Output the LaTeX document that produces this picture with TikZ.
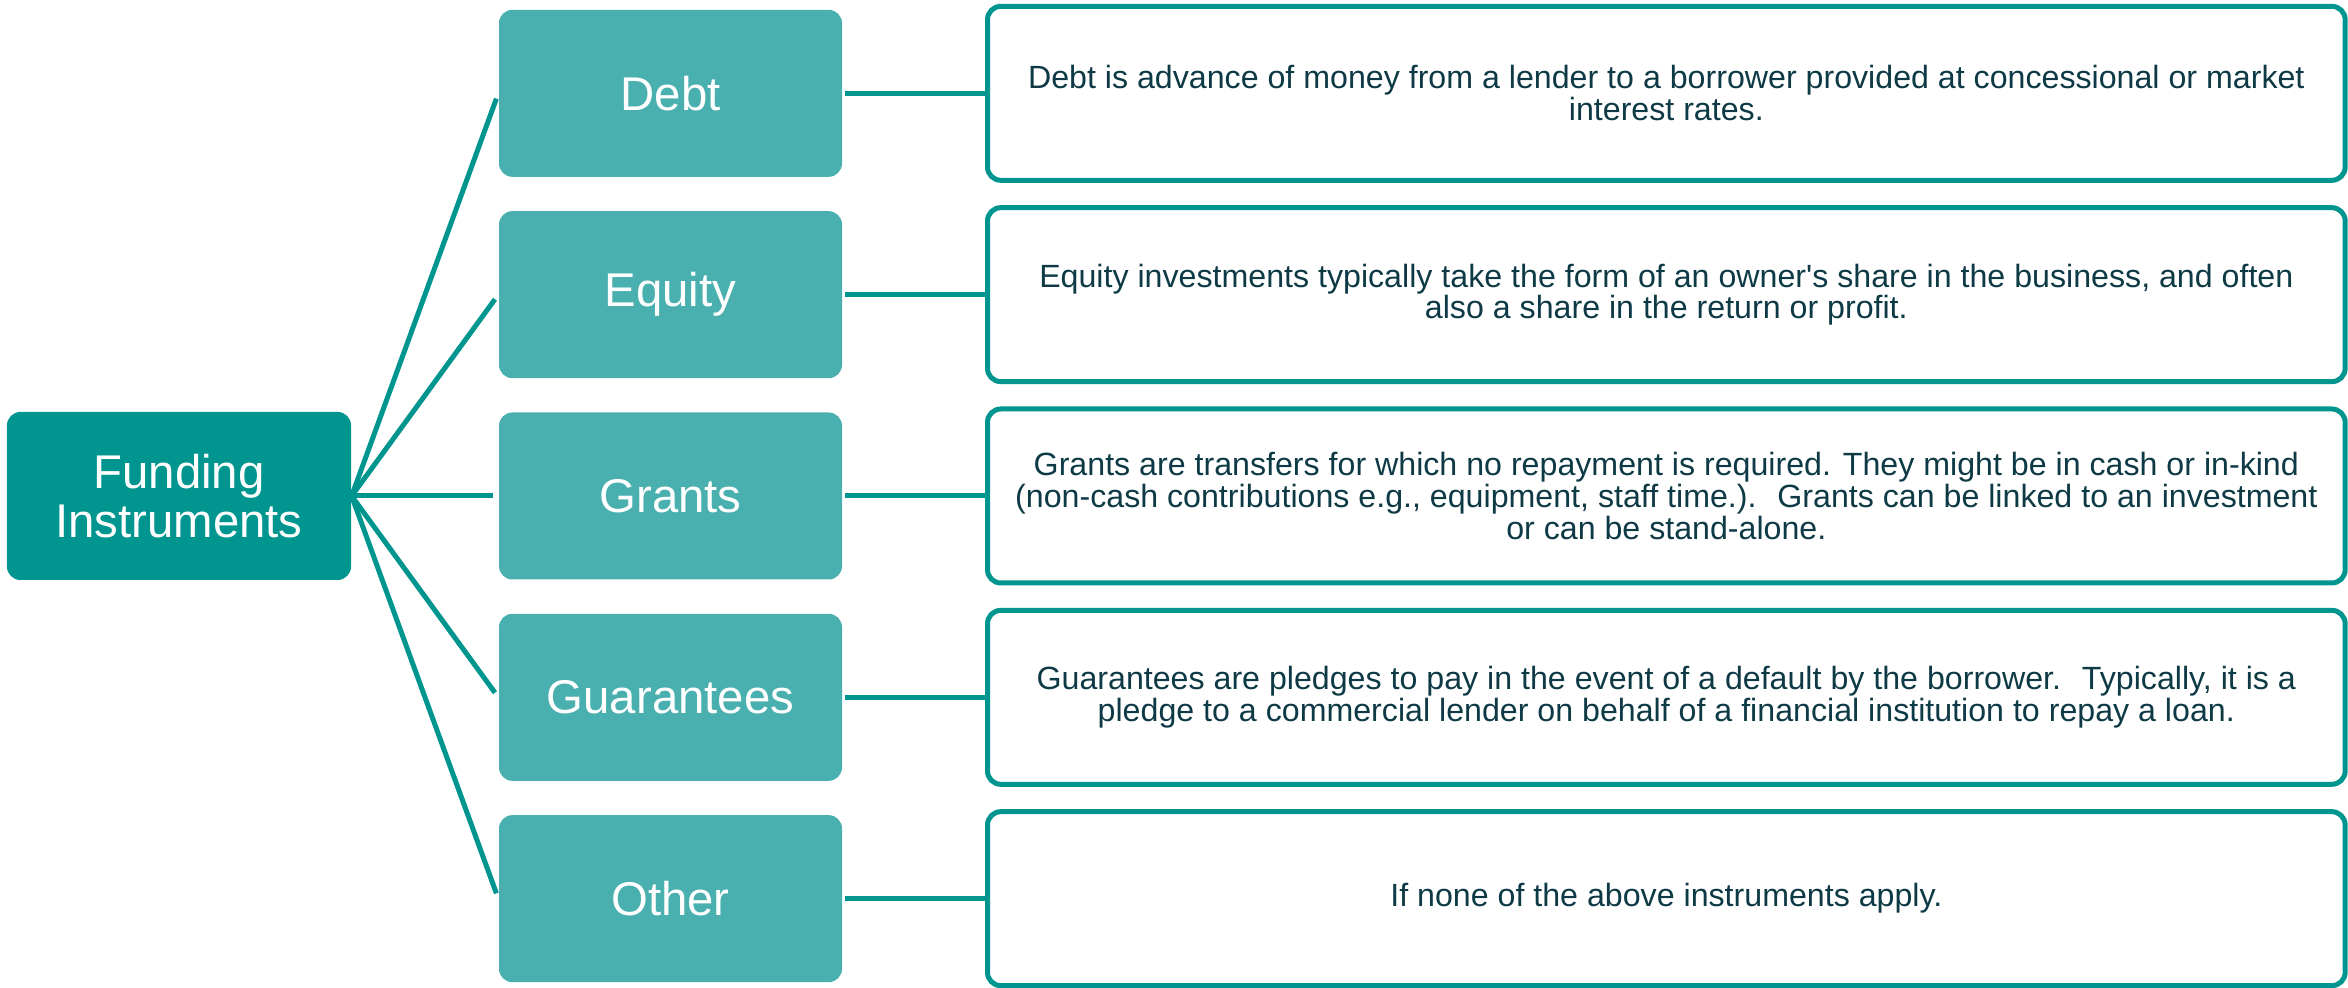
\documentclass[tikz,border=0pt]{standalone}
\usepackage{fontspec}
\setmainfont{Liberation Sans}
\usetikzlibrary{positioning}
\definecolor{tealdark}{RGB}{0,150,143}
\definecolor{teallight}{RGB}{74,176,175}
\definecolor{textdark}{RGB}{14,58,70}

\begin{document}
\begin{tikzpicture}[node distance={9.9pt and 44.1pt},
    root/.style = {fill=tealdark, text=white, rounded corners=4pt, minimum width=103.2pt, minimum height=50.4pt, inner sep=0pt, align=center, font=\fontsize{14.2}{14.5}\selectfont},
    kind/.style = {fill=teallight, text=white, rounded corners=4pt, minimum width=102.9pt, minimum height=50.1pt, inner sep=0pt, font=\fontsize{14.2}{14.5}\selectfont},
    info/.style = {draw=tealdark, line width=1.5pt, rounded corners=4pt, minimum width=407.3pt, minimum height=52.2pt, inner sep=0pt, align=center, text=textdark, font=\fontsize{9.65}{9.5}\selectfont},
    link/.style = {draw=tealdark, line width=1.5pt}]
            \useasboundingbox (-53.7pt,-147.6pt) rectangle (650.7pt,148.8pt);

            \node[root] (fund) {Funding\\Instruments};
            \node[kind] (3t) [right=44pt of fund] {Grants};
            \node[kind] (2t) [above=of 3t] {Equity};
            \node[kind] (1t) [above=of 2t] {Debt};
            \node[kind] (4t) [below=of 3t] {Guarantees};
            \node[kind] (5t) [below=of 4t] {Other};

            \node[info] (1d) [right=42.7pt of 1t] {Debt is advance of money from a lender to a borrower provided at concessional or market\\interest rates.};
            \node[info] (2d) [right=42.7pt of 2t] {Equity investments typically take the form of an owner\textquotesingle s share in the business, and often\\also a share in the return or profit.};
            \node[info] (3d) [right=42.7pt of 3t] {Grants are transfers for which no repayment is required. They might be in cash or in-kind\\(non-cash contributions e.g., equipment, staff time.).~ Grants can be linked to an investment\\or can be stand-alone.};
            \node[info] (4d) [right=42.7pt of 4t] {Guarantees are pledges to pay in the event of a default by the borrower.~ Typically, it is a\\pledge to a commercial lender on behalf of a financial institution to repay a loan.};
            \node[info] (5d) [right=42.7pt of 5t] {If none of the above instruments apply.};

            \draw[link, shorten >=1.7pt] (fund.east) -- (1t.west);
            \draw[link, shorten >=1.7pt] (fund.east) -- (2t.west);
            \draw[link, shorten >=1.7pt] (fund.east) -- (3t.west);
            \draw[link, shorten >=1.7pt] (fund.east) -- (4t.west);
            \draw[link, shorten >=1.7pt] (fund.east) -- (5t.west);
            \draw[link, shorten <=0.8pt] (1t.east) -- (1d.west);
            \draw[link, shorten <=0.8pt] (2t.east) -- (2d.west);
            \draw[link, shorten <=0.8pt] (3t.east) -- (3d.west);
            \draw[link, shorten <=0.8pt] (4t.east) -- (4d.west);
            \draw[link, shorten <=0.8pt] (5t.east) -- (5d.west);
        \end{tikzpicture}
\end{document}
